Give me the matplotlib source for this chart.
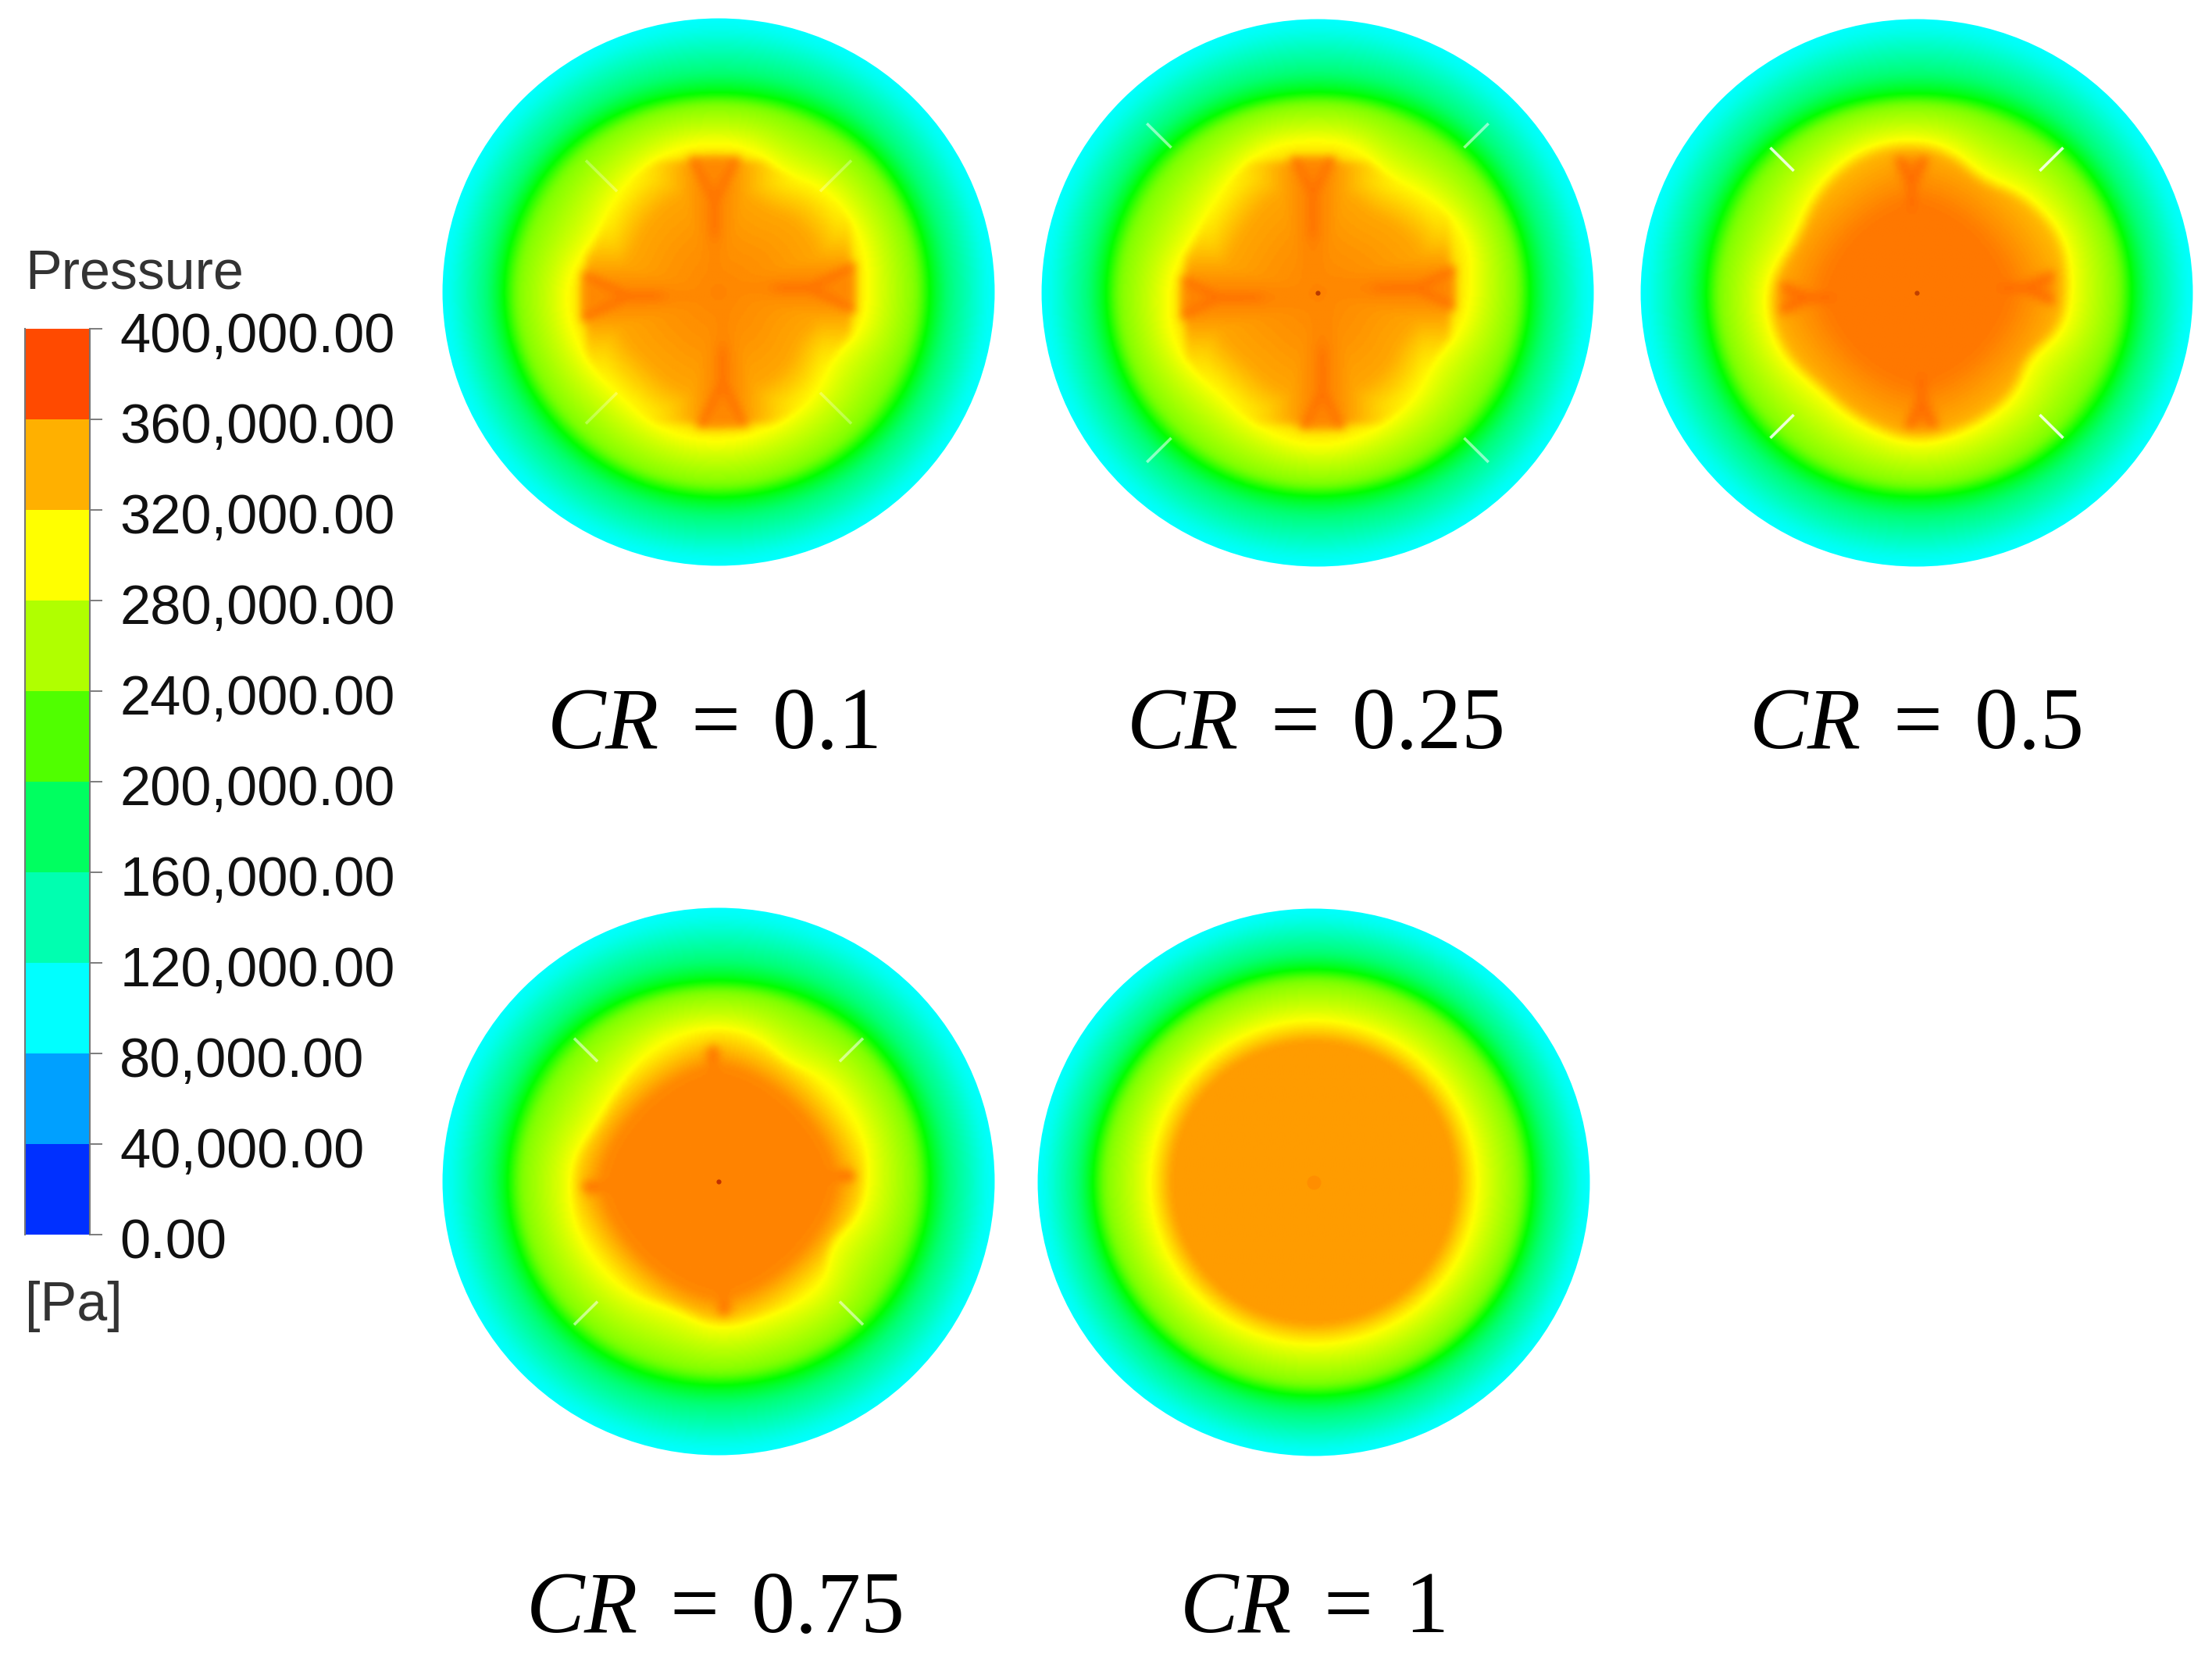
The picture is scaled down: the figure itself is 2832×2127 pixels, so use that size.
import matplotlib
matplotlib.use("Agg")
import matplotlib.pyplot as plt
import numpy as np
from matplotlib.colors import BoundaryNorm, LinearSegmentedColormap, ListedColormap
from matplotlib.patches import Circle
from matplotlib.transforms import ScaledTranslation

W, H = 2832, 2127

# legend
tick_values = [400000, 360000, 320000, 280000, 240000, 200000, 160000, 120000, 80000, 40000, 0]
tick_labels = ["400,000.00", "360,000.00", "320,000.00", "280,000.00", "240,000.00", "200,000.00",
               "160,000.00", "120,000.00", "80,000.00", "40,000.00", "0.00"]
band_colors = ["#0030ff", "#00a0ff", "#00ffff", "#00ffb0", "#00ff60",
               "#50ff00", "#b0ff00", "#ffff00", "#ffb000", "#ff4a00"]

# cases, pixel centres of the discs
cases = ["0.1", "0.25", "0.5", "0.75", "1"]
centre_x = [920, 1687, 2454, 920, 1682]
centre_y = [374, 375, 375, 1513, 1514]
label_x = [912, 1683, 2452, 914, 1680]
label_y = [958, 958, 958, 2090, 2090]

# radius of the 300 kPa (yellow) contour
yellow_angles = [0, 20, 45, 60, 75, 90, 110, 135, 155, 170, 180, 200, 225, 250, 270, 290, 315, 330, 345]
yellow_01 = [.54, .553, .537, .487, .534, .548, .543, .509, .48, .534, .555, .545, .518, .543, .548, .533, .51, .467, .539]
yellow_025 = [.555, .578, .52, .49, .555, .557, .56, .50, .485, .53, .543, .552, .508, .539, .565, .544, .516, .48, .54]
yellow_05 = [.56, .572, .526, .483, .538, .561, .56, .52, .485, .528, .551, .546, .50, .525, .555, .537, .518, .472, .552]
yellow_075 = [.54, .548, .534, .49, .55, .563, .553, .497, .488, .532, .536, .54, .523, .49, .537, .517, .534, .46, .523]
yellow_1 = [.592] * 19
yellow_radius = [yellow_01, yellow_025, yellow_05, yellow_075, yellow_1]

# radius of the 200 kPa (green) contour
green_angles = [0, 45, 90, 135, 180, 225, 270, 315]
green_01 = [.766, .76, .72, .76, .78, .76, .746, .76]
green_025 = [.771, .76, .725, .76, .767, .76, .737, .76]
green_05 = [.783, .76, .72, .76, .762, .76, .74, .76]
green_075 = [.768, .76, .727, .76, .765, .76, .74, .76]
green_1 = [.795, .785, .776, .785, .803, .785, .777, .785]
green_radius = [green_01, green_025, green_05, green_075, green_1]

# pressure inside the yellow contour, against radius over contour radius
inner_t = [[0, .4, .7, .85, 1], [0, .4, .7, .85, 1], [0, .55, .75, .9, 1], [0, .4, .7, .85, 1], [0, .5, .87, .913, 1]]
inner_p = [[348e3, 341e3, 334e3, 318e3, 300e3], [348e3, 341e3, 334e3, 318e3, 300e3],
           [348e3, 340e3, 326e3, 310e3, 300e3], [322e3, 322e3, 320e3, 310e3, 300e3],
           [339e3, 339e3, 339e3, 325e3, 300e3]]
# yellow to green to cyan, read along a radius of the CR = 1 disc
outer_t = [1.25, 1.57, 1.8, 1.92, 2, 2.08, 2.27, 2.51, 2.87, 3]
outer_p = [282e3, 263e3, 249e3, 222e3, 200e3, 185e3, 155e3, 135e3, 106e3, 100e3]

# rounded diamond plateau: size, pressure, fall per unit size
diamond_size = [0, 0, .33, .42, 0]
diamond_p = [0, 0, 352e3, 347e3, 0]
diamond_fall = [0, 0, 110e3, 310e3, 0]

# inlet jets along the four axes: inner end of the trunk, V junction, tip half width, side offset
arm_start = [.16, .16, .26, .385, None]
arm_junction = [.33, .36, .40, .50, None]
arm_half = [.085, .072, .05, .0, None]
arm_offset = [.015, .017, .018, .02, None]
arm_tip = [.50, .50, .50, .50, None]
arm_peak = [356e3, 356e3, 358e3, 355e3, None]
arm_broad = [346e3, 347e3, 349e3, 345e3, None]
arm_spread = [.2, .2, .13, .07, None]

# diagonal slits: radii and how much they show
slit_in = [.52, .75, .63, .62, None]
slit_out = [.68, .875, .75, .74, None]
slit_alpha = [.3, .55, .85, .55, None]

# small mark at the centre
mark_size = [0, 4.5, 4.5, 4.5, 13]
mark_color = ["none", "#b83a00", "#c04000", "#c03000", "#ff8e00"]


def soft(a):
    a = np.clip(a, 0, 1)
    return a ** 2 * (3 - 2 * a)


def blur(z, sigma=3):
    half = int(4 * sigma)
    kernel = np.exp(-0.5 * (np.arange(-half, half + 1) / sigma) ** 2)
    kernel /= kernel.sum()
    z = np.pad(z, half, mode="edge")
    z = np.apply_along_axis(lambda row: np.convolve(row, kernel, mode="same"), 0, z)
    z = np.apply_along_axis(lambda row: np.convolve(row, kernel, mode="same"), 1, z)
    return z[half:-half, half:-half]


def smooth_contour(th, angles, radii, width=18):
    fine = np.interp(np.arange(360), angles, radii, period=360)
    box = np.ones(width) / width
    fine = np.convolve(np.r_[fine, fine, fine], box, mode="same")[360:720]
    return np.interp(th, np.arange(360), fine, period=360)


def pressure_field(i, n=420):
    xs = np.linspace(-1.01, 1.01, n)
    x, y = np.meshgrid(xs, xs)
    r = np.hypot(x, y)
    th = np.degrees(np.arctan2(y, x)) % 360
    s = smooth_contour(th, yellow_angles, yellow_radius[i])
    g = smooth_contour(th, green_angles, green_radius[i], width=30)
    t = np.where(r < s, r / s, np.where(r < g, 1 + (r - s) / (g - s), 2 + (r - g) / (1 - g)))
    p = np.interp(t, inner_t[i] + outer_t, inner_p[i] + outer_p)
    cap = 300e3 + (1 - t) * 450e3

    if diamond_size[i] > 0:
        q = (np.abs(x) ** 1.6 + np.abs(y) ** 1.6) ** (1 / 1.6)
        pd = diamond_p[i] - np.clip(q - diamond_size[i], 0, None) * diamond_fall[i]
        p = np.maximum(p, np.minimum(pd, cap))

    if arm_start[i] is not None:
        for k in range(4):
            a = np.radians(90 * k)
            u = x * np.cos(a) + y * np.sin(a)
            v = -x * np.sin(a) + y * np.cos(a) - arm_offset[i]
            tip = arm_tip[i]
            # wide swelling of pressure round the jet
            broad = arm_broad[i] - 46e3 * (1 - np.exp(-(v / arm_spread[i]) ** 2))
            broad = broad * soft((u + .05) / .1) * soft((tip + .035 - u) / .06)
            p = np.maximum(p, np.minimum(broad, cap))
            # inside of the V
            if arm_half[i] > 0:
                h = arm_half[i] * (u - arm_junction[i]) / (tip - arm_junction[i])
                lobe = (u >= arm_junction[i]) & (np.abs(v) < h) & (u < tip)
                p = np.where(lobe, np.maximum(p, np.minimum(343e3, cap)), p)
                wing = np.where(u >= arm_junction[i], np.abs(np.abs(v) - h), 1)
            else:
                wing = np.ones_like(u)
            trunk = np.where(u < arm_junction[i], np.abs(v), 1)
            d = np.minimum(trunk, wing)
            inside = soft((u - arm_start[i]) / .08) * soft((tip + .01 - u) / .02)
            weight = np.exp(-(d / .016) ** 2) * inside
            streak = np.minimum(arm_peak[i], cap + 10e3)
            p = p + np.clip(streak - p, 0, None) * weight

    return blur(p)


# blue 0 / cyan 100k / green 200k / yellow 300k / red 400k
field_cmap = LinearSegmentedColormap.from_list("rainbow_pa", ["#0000ff", "#00ffff", "#00ff00", "#ffff00", "#ff0000"])

plt.rcParams["font.family"] = "Liberation Sans"
plt.rcParams["mathtext.fontset"] = "custom"
plt.rcParams["mathtext.it"] = "Liberation Serif:italic"
plt.rcParams["mathtext.rm"] = "Liberation Serif"

fig = plt.figure(figsize=(W / 100, H / 100), dpi=100)


def add_px_axes(left, top, right, bottom):
    return fig.add_axes([left / W, 1 - bottom / H, (right - left) / W, (bottom - top) / H])


for i, case in enumerate(cases):
    cx, cy = centre_x[i], centre_y[i]
    ax = add_px_axes(cx - 357, cy - 354, cx + 357, cy + 354)
    im = ax.imshow(pressure_field(i), extent=(-1.01, 1.01, -1.01, 1.01), origin="lower", cmap=field_cmap,
                   vmin=0, vmax=400e3, interpolation="bilinear", aspect="auto")
    im.set_clip_path(Circle((0, 0), 1.0, transform=ax.transData))
    if slit_in[i] is not None:
        for deg in [45, 135, 225, 315]:
            ca, sa = np.cos(np.radians(deg)), np.sin(np.radians(deg))
            ax.plot([slit_in[i] * ca, slit_out[i] * ca], [slit_in[i] * sa, slit_out[i] * sa],
                    color="white", lw=2.6, alpha=slit_alpha[i], solid_capstyle="butt")
    if mark_size[i] > 0:
        ax.plot([0], [0], "o", ms=mark_size[i], color=mark_color[i], mec="none")
    ax.set_xlim(-1.01, 1.01)
    ax.set_ylim(-1.01, 1.01)
    ax.axis("off")
    fig.text(label_x[i] / W, 1 - label_y[i] / H, r"$CR\,$ = $\,$" + case, family="Liberation Serif",
             fontsize=80.6, ha="center", va="baseline", color="black")

# legend bar
cax = add_px_axes(32, 421, 115, 1581)
levels = tick_values[::-1]
cax.pcolormesh([0, 1], levels, np.array(levels[:-1])[:, None], cmap=ListedColormap(band_colors),
               norm=BoundaryNorm(levels, len(band_colors)))
cax.set_ylim(0, 400000)
cax.set_xticks([])
cax.yaxis.tick_right()
cax.set_yticks(tick_values)
cax.set_yticklabels(tick_labels, fontsize=50.8, color="#111111")
cax.tick_params(axis="y", length=11.5, width=1.2, color="#666666", pad=16)
for lab in cax.get_yticklabels():
    lab.set_transform(lab.get_transform() + ScaledTranslation(0, -5 / 100, fig.dpi_scale_trans))
for side in ["top", "bottom"]:
    cax.spines[side].set_visible(False)
for side in ["left", "right"]:
    cax.spines[side].set_color("#777777")
    cax.spines[side].set_linewidth(1.5)

fig.text(32 / W, 1 - 352 / H, "Pressure", fontsize=50.4, color="#333333", ha="left", va="center")
fig.text(32 / W, 1 - 1673 / H, "[Pa]", fontsize=50.4, color="#333333", ha="left", va="center")

fig.savefig("out.png", dpi=100, facecolor="white")
